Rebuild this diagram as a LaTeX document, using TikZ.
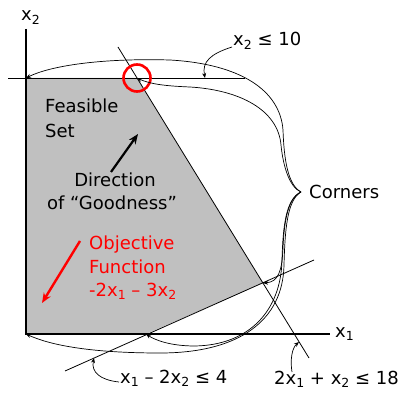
\documentclass[tikz,border=0pt]{standalone}
\usepackage{fontspec}
\setmainfont{DejaVu Sans}
\usetikzlibrary{arrows.meta}
\newcommand\sbs[1]{\raisebox{-0.4ex}{\fontsize{12.5}{12.5}\selectfont #1}}
\definecolor{feasgray}{RGB}{192,192,192}
\definecolor{objred}{RGB}{255,0,0}
\tikzset{
  lbl/.style={anchor=base west, inner sep=0pt, font=\fontsize{18}{18}\selectfont},
  axis/.style={line width=1.8pt},
  cline/.style={line width=0.8pt},
  pointer/.style={line width=0.7pt, -{Stealth[length=5pt,width=4pt]}},
  bigarrow/.style={line width=2.4pt, -{Stealth[length=10pt,width=8pt]}},
}
\begin{document}
\begin{tikzpicture}[x=1pt,y=-1pt]
\useasboundingbox (0,0) rectangle (402,393);
% corners
\coordinate (O) at (26,334);
\coordinate (C1) at (26,78);
\coordinate (C2) at (137,78);
\coordinate (C3) at (263,283);
\coordinate (C4) at (146,334);
\coordinate (T) at (301,192);
% feasible set
\fill[feasgray] (O) -- (C1) -- (C2) -- (C3) -- (C4) -- cycle;
% constraint lines
\coordinate (H0) at (8,78);
\coordinate (H1) at (245,78);
\draw[cline] (H0) -- (H1);
\coordinate (La) at (118,47);
\coordinate (Lb) at (309,358);
\draw[cline] (La) -- (Lb);
\coordinate (Ma) at (65,371);
\coordinate (Mb) at (314,260);
\draw[cline] (Ma) -- (Mb);
% axes
\coordinate (Ytop) at (26,29);
\coordinate (Xend) at (330,334);
\draw[axis] (Ytop) -- (O) -- (Xend);
\node[lbl] (xl1) at (335,337) {x\sbs{1}};
\node[lbl] (xl2) at (21,21) {x\sbs{2}};
% red circle
\node[draw=objred, line width=2.6pt, circle, minimum size=27pt, inner sep=0pt] (circ) at (C2) {};
% texts
\node[lbl] (fs1) at (45,113) {Feasible};
\node[lbl] (fs2) at (45,138) {Set};
\node[lbl, anchor=base] (dir1) at (115,187) {Direction};
\node[lbl, anchor=base] (dir2) at (112,210) {of “Goodness”};
\coordinate (Ds) at (111,172);
\coordinate (De) at (138,134);
\draw[bigarrow, line width=2.2pt] (Ds) -- (De);
\node[lbl, text=objred] (ob1) at (89,250) {Objective};
\node[lbl, text=objred] (ob2) at (89,273) {Function};
\node[lbl, text=objred] (ob3) at (89,296) {-2x\sbs{1} – 3x\sbs{2}};
\coordinate (Rs) at (80,241);
\coordinate (Re) at (42,303);
\draw[bigarrow, draw=objred, fill=objred] (Rs) -- (Re);
% constraint labels
\node[lbl] (c10) at (233,46) {x\sbs{2} ≤ 10};
\coordinate (c10s) at (232,47);
\coordinate (c10t) at (205,78);
\draw[pointer] (c10s) .. controls (210,54) and (202,62) .. (c10t);
\node[lbl] (c4) at (120,383) {x\sbs{1} – 2x\sbs{2} ≤ 4};
\coordinate (c4s) at (119,382);
\coordinate (c4t) at (94,358);
\draw[pointer] (c4s) .. controls (100,380) and (91,372) .. (c4t);
\node[lbl] (c18) at (274,384) {2x\sbs{1} + x\sbs{2} ≤ 18};
\coordinate (c18s) at (292,372);
\coordinate (c18t) at (299,342);
\draw[pointer] (c18s) .. controls (290,360) and (292,348) .. (c18t);
% corners label and brace curves
\node[lbl] (cor) at (309,199) {Corners};
\draw[pointer] (T) .. controls (288,185) and (284,160) .. (283,130)
  .. controls (280,90) and (240,64) .. (170,60)
  .. controls (100,58) and (50,66) .. (C1);
\draw[pointer] (T) .. controls (289,187) and (283,165) .. (281,145)
  .. controls (278,110) and (240,90) .. (190,87)
  .. controls (165,86) and (150,84) .. (C2);
\draw[pointer] (T) .. controls (287,198) and (284,225) .. (283,248)
  .. controls (282,272) and (278,282) .. (C3);
\draw[pointer] (T) .. controls (286,199) and (283,225) .. (282,260)
  .. controls (281,310) and (250,345) .. (195,346)
  .. controls (170,346) and (155,340) .. (C4);
\draw[pointer] (T) .. controls (287,200) and (285,230) .. (284,265)
  .. controls (283,320) and (240,353) .. (160,353)
  .. controls (90,353) and (50,345) .. (O);
\end{tikzpicture}
\end{document}
